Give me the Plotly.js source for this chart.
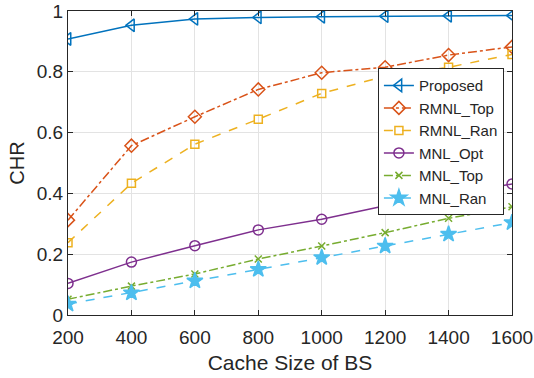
<!DOCTYPE html>
<html><head><meta charset="utf-8">
<script src="https://cdn.plot.ly/plotly-3.0.1.min.js"></script>
<style>html,body{margin:0;padding:0;background:#fff}#chart{width:534px;height:378px}</style>
</head><body><div id="chart"></div>
<script>
const cacheSize = [200, 400, 600, 800, 1000, 1200, 1400, 1600];
const proposed = [0.908, 0.953, 0.974, 0.979, 0.981, 0.983, 0.984, 0.985];
const rmnlTop = [0.312, 0.557, 0.652, 0.742, 0.797, 0.815, 0.855, 0.882];
const rmnlRan = [0.238, 0.433, 0.562, 0.644, 0.729, 0.786, 0.815, 0.857];
const mnlOpt = [0.104, 0.174, 0.228, 0.280, 0.315, 0.359, 0.393, 0.431];
const mnlTop = [0.052, 0.095, 0.135, 0.184, 0.227, 0.271, 0.318, 0.356];
const mnlRan = [0.036, 0.073, 0.112, 0.150, 0.189, 0.227, 0.266, 0.304];
const names = ["Proposed", "RMNL_Top", "RMNL_Ran", "MNL_Opt", "MNL_Top", "MNL_Ran"];
const xTicks = [200, 400, 600, 800, 1000, 1200, 1400, 1600];
const yTicks = [0, 0.2, 0.4, 0.6, 0.8, 1];
const yTickText = ["0", "0.2", "0.4", "0.6", "0.8", "1"];

const series = [proposed, rmnlTop, rmnlRan, mnlOpt, mnlTop, mnlRan];
const colors = ["#0072BD", "#D95319", "#EDB120", "#7E2F8E", "#77AC30", "#4DBEEE"];
const dashes = ["solid", "dashdot", "dash", "solid", "dashdot", "dash"];
const symbols = ["triangle-left-open", "diamond-open", "square-open", "circle-open", "x-thin-open", "star"];
const sizes = [11, 10, 8, 10, 7, 12];

const traces = series.map((s, i) => ({
  x: cacheSize, y: s, name: names[i], type: "scatter", mode: "lines+markers",
  line: {color: colors[i], width: 1.5, dash: dashes[i]},
  marker: {symbol: symbols[i], size: sizes[i], color: colors[i], line: {color: colors[i], width: 1.5}}
}));

const font = {family: "Liberation Sans, Arial, sans-serif", color: "#262626"};
const layout = {
  width: 534, height: 378,
  margin: {l: 68, r: 22, t: 11, b: 63},
  paper_bgcolor: "#fff", plot_bgcolor: "#fff",
  font: Object.assign({size: 19}, font),
  showlegend: true,
  legend: {x: 0.698, y: 0.812, xanchor: "left", yanchor: "top", bgcolor: "#fff",
    bordercolor: "#262626", borderwidth: 1, font: Object.assign({size: 15}, font),
    tracegroupgap: 0, itemwidth: 30},
  xaxis: {range: [200, 1600], tickvals: xTicks, ticktext: xTicks.map(String),
    showgrid: true, gridcolor: "#e3e3e3", gridwidth: 1,
    showline: true, linecolor: "#262626", linewidth: 1, mirror: "ticks",
    ticks: "inside", ticklen: 5, tickcolor: "#262626", zeroline: false,
    ticklabelstandoff: 5,
    tickfont: Object.assign({size: 19}, font),
    title: {text: "Cache Size of BS", font: Object.assign({size: 21}, font), standoff: 8}},
  yaxis: {range: [0, 1], tickvals: yTicks, ticktext: yTickText,
    showgrid: true, gridcolor: "#e3e3e3", gridwidth: 1,
    showline: true, linecolor: "#262626", linewidth: 1, mirror: "ticks",
    ticks: "inside", ticklen: 5, tickcolor: "#262626", zeroline: false,
    tickfont: Object.assign({size: 19}, font),
    title: {text: "CHR", font: Object.assign({size: 20}, font), standoff: 6}}
};
Plotly.newPlot("chart", traces, layout, {displayModeBar: false, staticPlot: true});
</script></body></html>
